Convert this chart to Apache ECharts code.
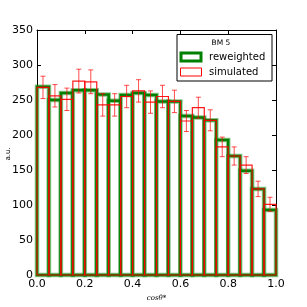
<!DOCTYPE html>
<html>
<head>
<meta charset="utf-8">
<script src="https://cdn.jsdelivr.net/npm/echarts@6/dist/echarts.min.js"></script>
<style>html,body{margin:0;padding:0;background:#fff}#c{width:307px;height:307px}</style>
</head>
<body>
<div id="c"></div>
<script>
const binEdges = [0,0.05,0.1,0.15,0.2,0.25,0.3,0.35,0.4,0.45,0.5,0.55,0.6,0.65,0.7,0.75,0.8,0.85,0.9,0.95,1.0];
const reweighted = [269,250,260,264,264,258,249,257,260,257,248,248,227,225,221,193,170,149,123,93];
const simulated = [268,256,251,277,276,243,243,255,263,247,255,248,220,239,221,183,170,157,123,101];
const simErr = [16,16,16,17,17,16,16,16,16,16,16,16,15,15,15,14,13,12,11,10];
const xTicks = [0,0.2,0.4,0.6,0.8,1.0];
const yTicks = [0,50,100,150,200,250,300,350];

const greenData = reweighted.map((v,i)=>[binEdges[i],binEdges[i+1],v]);
const redData = simulated.map((v,i)=>[binEdges[i],binEdges[i+1],v]);
const errData = simulated.map((v,i)=>[(binEdges[i]+binEdges[i+1])/2,v,simErr[i]]);

const chart = echarts.init(document.getElementById('c'));
const font = 'DejaVu Sans';
function rectShape(api){
  const p0 = api.coord([api.value(0), api.value(2)]);
  const p1 = api.coord([api.value(1), 0]);
  return {x:p0[0], y:p0[1], width:p1[0]-p0[0], height:p1[1]-p0[1]};
}
const axisCommon = {
  axisLine:{show:true,onZero:false,lineStyle:{color:'#000',width:1}},
  axisTick:{show:true,inside:true,length:4,lineStyle:{color:'#000'}},
  splitLine:{show:false}
};
chart.setOption({
  animation:false,
  grid:{left:37,right:31,top:30,bottom:32,containLabel:false,outerBoundsMode:'none'},
  xAxis:[
    Object.assign({type:'value',min:0,max:1,interval:0.2,position:'bottom',
      axisLabel:{color:'#000',fontFamily:font,fontSize:11,margin:4,formatter:v=>v.toFixed(1)},
      name:'cos\u03B8*',nameLocation:'middle',nameGap:20,
      nameTextStyle:{fontFamily:'DejaVu Serif',fontStyle:'italic',fontSize:7,color:'#000'}},axisCommon),
    Object.assign({type:'value',min:0,max:1,interval:0.2,position:'top',axisLabel:{show:false}},axisCommon)
  ],
  yAxis:[
    Object.assign({type:'value',min:0,max:350,interval:50,position:'left',
      axisLabel:{color:'#000',fontFamily:font,fontSize:11,margin:4}},axisCommon),
    Object.assign({type:'value',min:0,max:350,interval:50,position:'right',axisLabel:{show:false}},axisCommon)
  ],
  series:[
    {type:'custom',data:greenData,z:2,renderItem:function(params,api){
      const s = rectShape(api);
      return {type:'group',children:[
        {type:'rect',shape:s,style:{fill:'#fff',stroke:'rgba(0,128,0,0.45)',lineWidth:4.5}},
        {type:'rect',shape:s,style:{fill:'none',stroke:'#008000',lineWidth:2.5}}
      ]};
    }},
    {type:'custom',data:redData,z:3,renderItem:function(params,api){
      return {type:'rect',shape:rectShape(api),style:{fill:'none',stroke:'rgba(255,0,0,0.9)',lineWidth:1.2}};
    }},
    {type:'custom',data:errData,z:4,renderItem:function(params,api){
      const x = api.value(0), y = api.value(1), e = api.value(2);
      const top = api.coord([x,y+e]), bot = api.coord([x,y-e]);
      const st = {stroke:'rgba(255,0,0,0.7)',lineWidth:1};
      return {type:'group',children:[
        {type:'line',shape:{x1:top[0],y1:top[1],x2:bot[0],y2:bot[1]},style:st},
        {type:'line',shape:{x1:top[0]-2.5,y1:top[1],x2:top[0]+2.5,y2:top[1]},style:st},
        {type:'line',shape:{x1:bot[0]-2.5,y1:bot[1],x2:bot[0]+2.5,y2:bot[1]},style:st}
      ]};
    }}
  ],
  graphic:[
    {type:'text',x:8,y:154,rotation:Math.PI/2,style:{text:'a.u.',fontFamily:font,fontSize:7,fill:'#000',align:'center',verticalAlign:'middle'},z:11},
    {type:'rect',shape:{x:177,y:34.5,width:95,height:46.5},style:{fill:'#fff',stroke:'#000',lineWidth:1},z:10},
    {type:'text',x:221,y:43,style:{text:'BM 5',fontFamily:font,fontSize:7.5,fill:'#000',align:'center',verticalAlign:'middle'},z:11},
    {type:'rect',shape:{x:181,y:53,width:20,height:8},style:{fill:'#fff',stroke:'#008000',lineWidth:3},z:11},
    {type:'text',x:209,y:57,style:{text:'reweighted',fontFamily:font,fontSize:10,fill:'#000',verticalAlign:'middle'},z:11},
    {type:'rect',shape:{x:180.5,y:68,width:21,height:8},style:{fill:'#fff',stroke:'#ff0000',lineWidth:1},z:11},
    {type:'text',x:209,y:72,style:{text:'simulated',fontFamily:font,fontSize:10,fill:'#000',verticalAlign:'middle'},z:11}
  ]
});
</script>
</body>
</html>
